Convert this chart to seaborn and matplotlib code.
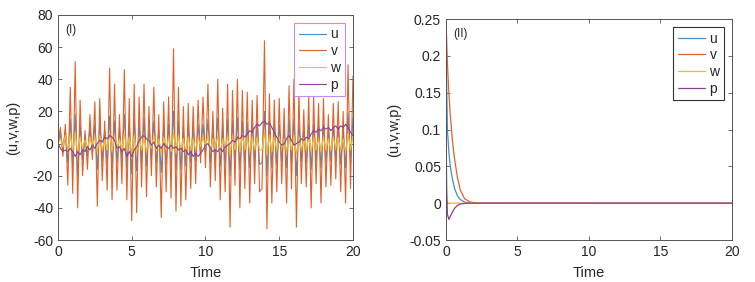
import numpy as np
import pandas as pd
import matplotlib
matplotlib.use('Agg')
import matplotlib.pyplot as plt
import seaborn as sns
from matplotlib.ticker import FuncFormatter

# ---- panel (I): chaotic regime, sampled every 1/6 time unit ----
time_chaos = np.arange(121) / 6.0

u_chaos = [0, 6, -4, 8, -12, 15, -14, 18, -20, 12, -10, 5, -8, 10, -6, 12, -16, 13, -11, 8,
           -13, 17, -15, 14, -12, 9, -11, 18, -15, 12, -19, 15, -17, 12, -12, 16, -14, 10, -9, 14,
           -12, 8, -18, 11, -13, 12, -14, 20, -17, 14, -16, 10, -14, 11, -12, 10, -11, 12, -6, 12,
           -7, 15, -12, 9, -10, 16, -14, 10, -13, 15, -20, 14, -11, 16, -16, 14, -12, 13, -15, 12,
           -11, 13, -13, -12, 20, -20, 14, -15, 12, -13, 12, -11, 10, -15, 15, -12, 16, -20, 13, -11,
           9, -12, 12, -16, 12, -11, 11, -15, 12, -12, 8, -11, 11, -10, 11, -13, 9, -15, 19, -12, 16]

v_chaos = [0, 10, -8, 12, -26, 35, -31, 51, -40, 27, -20, 8, -16, 18, -10, 26, -39, 28, -23, 14,
           -29, 47, -35, 37, -29, 18, -25, 46, -35, 28, -48, 37, -43, 29, -27, 37, -33, 23, -20, 35,
           -27, 18, -46, 26, -30, 29, -34, 59, -42, 35, -39, 23, -35, 25, -28, 23, -25, 27, -12, 29,
           -15, 37, -27, 20, -23, 40, -35, 22, -30, 37, -52, 33, -26, 40, -40, 33, -28, 32, -37, 27,
           -25, 30, -30, -28, 64, -53, 31, -37, 27, -30, 28, -25, 22, -37, 36, -28, 40, -52, 32, -25,
           21, -27, 29, -40, 29, -25, 25, -37, 28, -27, 18, -26, 25, -22, 26, -30, 20, -37, 49, -28, 42]

w_chaos = [0, 3, -2, 5, -4, 6, -5, 7, -6, 4, -3, 2, -3, 4, -2, 4, -5, 5, -4, 3,
           -4, 6, -5, 5, -4, 3, -4, 6, -5, 4, -6, 5, -6, 4, -4, 5, -5, 3, -3, 5,
           -4, 3, -6, 4, -4, 4, -5, 7, -6, 5, -5, 3, -5, 4, -4, 3, -4, 4, -2, 4,
           -2, 5, -4, 3, -3, 5, -5, 3, -4, 5, -7, 5, -4, 5, -5, 5, -4, 4, -5, 4,
           -4, 4, -4, -4, 7, -7, 5, -5, 4, -4, 4, -3, 3, -5, 5, -4, 5, -7, 4, -4,
           3, -4, 4, -5, 4, -4, 3, -5, 4, -4, 3, -4, 4, -3, 4, -4, 3, -5, 6, -4, 5]

p_chaos = [0, -3, -5, -4, -5, -3, -5, -8, -5, -7, -4, -5, -2, -4, -1, -3, 0, 2, 1, 4,
           3, 5, 4, 2, -3, -2, -5, -3, -8, -5, -8, -4, -2, 2, 4, 5, 3, 2, -1, 1,
           -3, -1, -3, 0, -2, -3, -1, -3, -2, -4, -3, -5, -4, -7, -5, -8, -6, -8, -6, -4,
           -1, 0, -3, -5, -4, -5, -3, -5, -2, -1, 0, 2, 1, 4, 3, 5, 4, 6, 8, 7,
           10, 12, 11, 13, 14, 12, 13, 10, 7, 4, 1, -1, 0, 3, 5, 2, -1, 0, 1, 3,
           2, 4, 3, 6, 8, 7, 9, 8, 10, 9, 10, 8, 10, 11, 9, 11, 10, 12, 10, 7, 5]

# ---- panel (II): controlled, decays to zero ----
time_ctrl = [0, 0.05, 0.1, 0.2, 0.3, 0.45, 0.6, 0.8, 1.0, 1.3, 1.7, 2.2, 20]
u_ctrl = [0.25, 0.16, 0.1, 0.07, 0.05, 0.033, 0.02, 0.01, 0.005, 0.0015, 0.0003, 0, 0]
v_ctrl = [0.25, 0.22, 0.19, 0.15, 0.12, 0.085, 0.06, 0.035, 0.018, 0.006, 0.0015, 0.0002, 0]
w_ctrl = [0.012, 0.004, 0.001, 0, 0, 0, 0, 0, 0, 0, 0, 0, 0]
p_ctrl = [0.1, 0.02, -0.015, -0.022, -0.018, -0.012, -0.007, -0.003, -0.0012, -0.0003, 0, 0, 0]

names = ['u', 'v', 'w', 'p']
colors = ['#3d8fd1', '#e0622a', '#f2bb2f', '#8b3d9a']

sns.set_theme(style='white')
plt.rcParams['font.family'] = ['Liberation Sans', 'DejaVu Sans']
plt.rcParams['axes.unicode_minus'] = False

fig = plt.figure(figsize=(7.55, 2.82), dpi=100)
ax1 = fig.add_axes([0.0768, 0.1489, 0.3907, 0.798])
ax2 = fig.add_axes([0.5907, 0.1489, 0.3788, 0.7837])

left = pd.DataFrame({'t': time_chaos, 'u': u_chaos, 'v': v_chaos, 'w': w_chaos, 'p': p_chaos})
right = pd.DataFrame({'t': time_ctrl, 'u': u_ctrl, 'v': v_ctrl, 'w': w_ctrl, 'p': p_ctrl})

for name, c in zip(names, colors):
    sns.lineplot(data=left, x='t', y=name, ax=ax1, color=c, lw=0.8, label=name, estimator=None)
    sns.lineplot(data=right, x='t', y=name, ax=ax2, color=c, lw=0.9, label=name, estimator=None)

def style(ax, ylim, yticks, tag, ypad):
    ax.set_xlim(0, 20)
    ax.set_ylim(*ylim)
    ax.set_xticks([0, 5, 10, 15, 20])
    ax.set_yticks(yticks)
    ax.yaxis.set_major_formatter(FuncFormatter(lambda v, pos: f'{v:g}'))
    ax.tick_params(direction='in', length=3, width=0.6, colors='#555555', labelcolor='#262626',
                   labelsize=10, top=True, right=True, left=True, bottom=True)
    for s in ax.spines.values():
        s.set_color('#555555')
        s.set_linewidth(0.7)
    ax.set_xlabel('Time', fontsize=10.5, color='#262626', labelpad=5)
    ax.set_ylabel('(u,v,w,p)', fontsize=10.5, color='#262626', labelpad=ypad)
    ax.text(0.025, 0.96, tag, transform=ax.transAxes, fontsize=8.5, va='top', ha='left', color='#262626')

style(ax1, (-60, 80), list(range(-60, 81, 20)), '(I)', 9)
style(ax2, (-0.05, 0.25), [-0.05, 0, 0.05, 0.1, 0.15, 0.2, 0.25], '(II)', 6)

for ax, ec in [(ax1, '#c58cf5'), (ax2, '#333333')]:
    leg = ax.legend(loc='upper right', fontsize=10, frameon=True, fancybox=False, framealpha=1,
                    edgecolor=ec, handlelength=2.0, handletextpad=0.3, labelspacing=0.2,
                    borderpad=0.3, borderaxespad=0.6)
    leg.get_frame().set_linewidth(0.8)

fig.savefig('out.png', dpi=100)
